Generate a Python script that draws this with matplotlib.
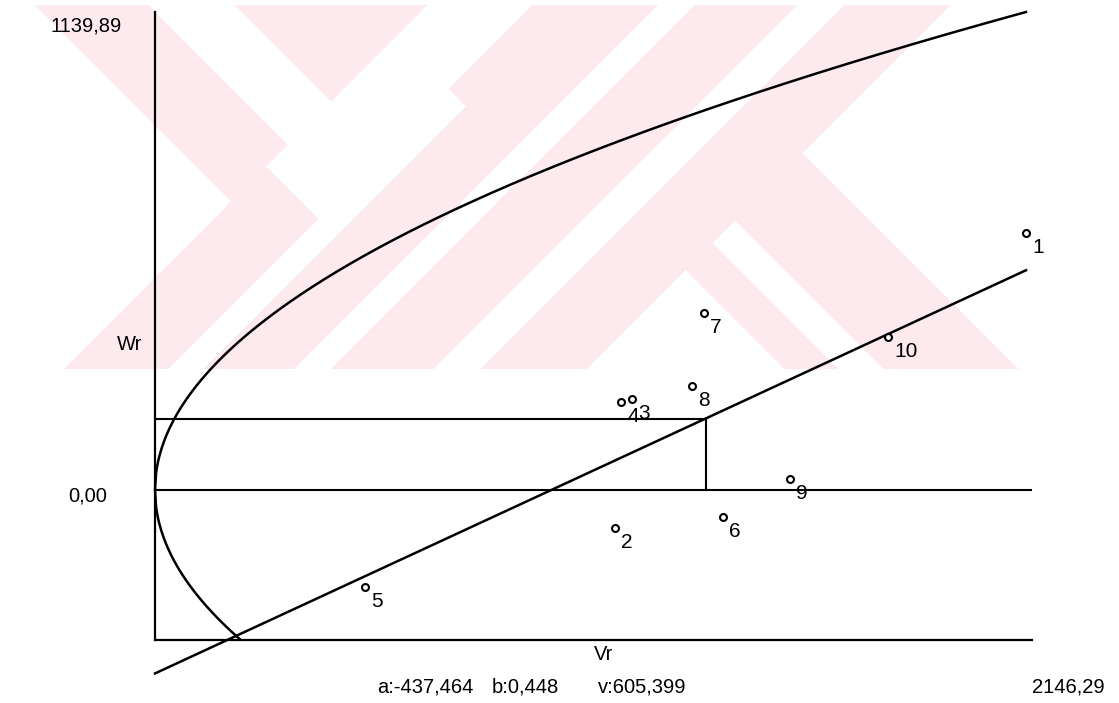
import matplotlib
matplotlib.use('Agg')
import matplotlib.pyplot as plt
import numpy as np

# Vr / Wr değerleri (ebeveyn 1..10)
parents = ['1', '2', '3', '4', '5', '6', '7', '8', '9', '10']
vr = [2146.29, 1133.4, 1175.3, 1148.2, 517.4, 1399.6, 1352.7, 1323.2, 1564.6, 1806.0]
wr = [612.9, -90.6, 217.0, 209.9, -231.3, -64.4, 422.1, 248.0, 26.2, 364.9]

# regresyon ve parabol parametreleri
a = -437.464
b = 0.448
vp = 605.399
vr_max = 2146.29
wr_max = 1139.89

W, H = 1119, 703

plt.rcParams['font.family'] = ['Liberation Sans', 'DejaVu Sans']

fig = plt.figure(figsize=(W / 100, H / 100), dpi=100)
fig.patch.set_facecolor('white')

# arka plandaki soluk filigran
yy, xx = np.mgrid[0:H, 0:W]
u = xx + yy
v = xx - yy
pink = np.zeros((H, W), dtype=bool)
pink |= (u < 432) & (((v >= 30) & (v < 144)) | (v >= 230))
pink |= (u >= 432) & (u < 537) & (v < 100)
pink |= (u >= 537) & (u < 572) & (v >= 360)
pink |= (u >= 572) & (u < 663)
pink |= (u >= 699) & (u < 802)
pink |= (u >= 849) & (u < 955)
pink |= (u >= 955) & (((v >= 416) & (v < 470)) | ((v >= 515) & (v < 650)))
pink &= (yy >= 5) & (yy <= 368)
img = np.ones((H, W, 4))
img[..., 0] = 253 / 255
img[..., 1] = 234 / 255
img[..., 2] = 238 / 255
img[..., 3] = pink.astype(float)
fig.figimage(img, xo=0, yo=0, origin='upper', zorder=-5)


def px(x, y):
    return x / W, 1 - y / H


# eksen alanı (piksel konumlarına göre)
left, right, top, bottom = 155, 1032, 12, 640
zero_y = 490
ax = fig.add_axes([left / W, (H - bottom) / H, (right - left) / W, (bottom - top) / H])
ax.patch.set_alpha(0)
wr_bottom = -wr_max * (bottom - zero_y) / (zero_y - top)
ax.set_ylim(wr_bottom, wr_max)
ax.set_xlim(0, vr_max * (right - left) / 871)

for s in ['top', 'right']:
    ax.spines[s].set_visible(False)
for s in ['left', 'bottom']:
    ax.spines[s].set_linewidth(1.6)
ax.set_xticks([])
ax.set_yticks([])

lw = 1.8
ax.axhline(0, color='black', lw=1.5)

# parabol Wr^2 = Vp * Vr
xs = np.linspace(0, vr_max, 800)
ys = np.sqrt(vp * xs)
ax.plot(xs, ys, color='black', lw=lw, clip_on=False)
ax.plot(xs, -ys, color='black', lw=lw)

# regresyon doğrusu
ax.plot([0, vr_max], [a, a + b * vr_max], color='black', lw=lw, clip_on=False)

# ortalama çizgileri
vr_mean = np.mean(vr)
wr_hat = a + b * vr_mean
ax.plot([0, vr_mean], [wr_hat, wr_hat], color='black', lw=1.5)
ax.plot([vr_mean, vr_mean], [0, wr_hat], color='black', lw=1.5)

# noktalar
ax.plot(vr, wr, 'o', ms=5, mfc='white', mec='black', mew=1.5, clip_on=False)
for lab, x, y in zip(parents, vr, wr):
    ax.annotate(lab, (x, y), xytext=(4.5, -10.5), textcoords='offset points',
                ha='left', va='center', fontsize=15)

# eksen yazıları
fs = 14.5
fig.text(*px(122, 26), '1139,89', ha='right', va='center', fontsize=fs)
fig.text(*px(142, 345), 'Wr', ha='right', va='center', fontsize=fs)
fig.text(*px(107, 496), '0,00', ha='right', va='center', fontsize=fs)
fig.text(*px(604, 654), 'Vr', ha='center', va='center', fontsize=fs)
fig.text(*px(377, 687), 'a:-437,464', ha='left', va='center', fontsize=fs)
fig.text(*px(492, 687), 'b:0,448', ha='left', va='center', fontsize=fs)
fig.text(*px(598, 687), 'v:605,399', ha='left', va='center', fontsize=fs)
fig.text(*px(1032, 687), '2146,29', ha='left', va='center', fontsize=fs)

fig.savefig('out.png', dpi=100)
